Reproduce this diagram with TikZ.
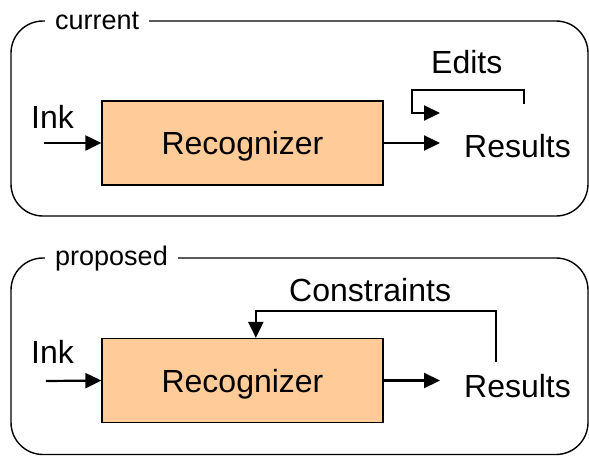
\documentclass[tikz,border=0pt]{standalone}
\usepackage{fontspec}
\setmainfont{Liberation Sans}
\usetikzlibrary{arrows.meta}
\definecolor{peach}{RGB}{255,204,153}
\tikzset{
  frame/.style={draw=black, line width=1.4pt, rounded corners=32pt},
  tag/.style={fill=white, inner xsep=10pt, inner ysep=2pt, anchor=base west, font=\fontsize{27}{29}\selectfont},
  label/.style={inner sep=0pt, anchor=base west, font=\fontsize{32}{35}\selectfont},
  stage/.style={draw=black, line width=1.3pt, fill=peach, minimum width=281pt, minimum height=84pt,
    inner sep=0pt, text height=23pt, text depth=0pt, font=\fontsize{32}{35}\selectfont},
  flow/.style={line width=2.2pt, -{Triangle[length=16pt,width=15pt]}},
  loop/.style={line width=2pt},
}
\begin{document}
\begin{tikzpicture}[x=1pt, y=-1pt]
\useasboundingbox (0,0) rectangle (589,456);

% ---- current pipeline ----
\draw[frame] (11,21) rectangle (588,216);
\node[tag] (tagA) at (45,29) {current};
\node[stage] (recA) at (242.5,143) {Recognizer};
\node[label] (inkA) at (31,128) {Ink};
\node[label] (resA) at (464,157) {Results};
\node[label] (editA) at (431,73) {Edits};
\coordinate (inA) at (44,143);
\coordinate (editStart) at (524,104);
\coordinate (editTurn) at (412,113);
\coordinate (editEnd) at (440,113);
\draw[loop] (editStart) -- (524,90) -| (editTurn);
\draw[flow] ([xshift=-1pt]editTurn) -- (editEnd);
\draw[flow] (inA) -- (recA.west);
\draw[flow, shorten >=24pt] (recA.east) -- (resA.west |- recA.east);

% ---- proposed pipeline ----
\draw[frame] (11,258) rectangle (588,454.5);
\node[tag] (tagB) at (45,265) {proposed};
\node[stage] (recB) at (242.5,380.5) {Recognizer};
\node[label] (inkB) at (31,363) {Ink};
\node[label] (resB) at (464,397) {Results};
\node[label] (consB) at (289,301) {Constraints};
\coordinate (inB) at (46,381);
\coordinate (consStart) at (496,362);
\draw[flow] (inB) -- (recB.west);
\draw[flow, shorten >=24pt] (recB.east) -- (resB.west |- recB.east);
\draw[flow] (consStart) -- (496,311) -| ([xshift=154.5pt]recB.north west);
\end{tikzpicture}
\end{document}
